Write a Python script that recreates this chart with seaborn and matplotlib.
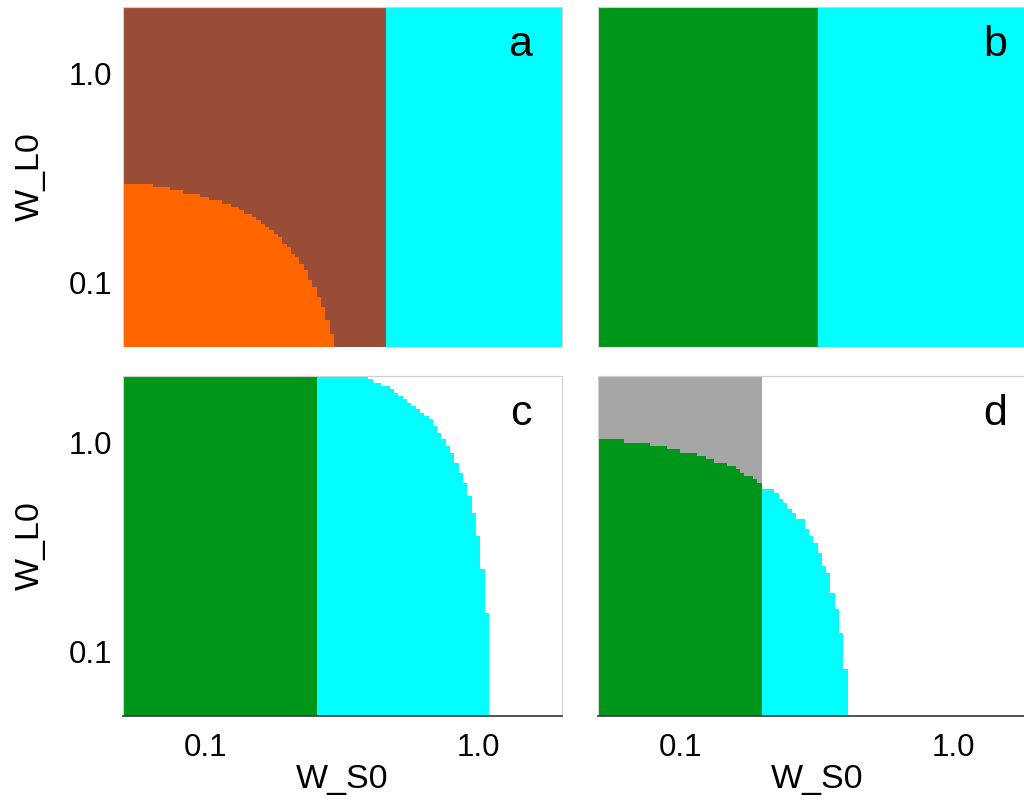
import numpy as np
import pandas as pd
import matplotlib
matplotlib.use("Agg")
import matplotlib.pyplot as plt
from matplotlib.colors import ListedColormap
import seaborn as sns

# ---------------------------------------------------------------------------
# Phase-diagram data: region boundaries in the (W_S0, W_L0) plane
# ---------------------------------------------------------------------------
REGION_NAMES = ["none", "orange", "brown", "cyan", "green", "gray"]
REGION_COLORS = ["#ffffff", "#ff6600", "#994c36", "#00ffff", "#00961a", "#a6a6a6"]
WHITE, ORANGE, BROWN, CYAN, GREEN, GRAY = range(len(REGION_NAMES))

WS0_RANGE = (0.0497, 2.03)
WL0_RANGE = (0.0492, 2.08)
N_CELLS = 102

TICK_VALUES = [0.1, 1.0]
TICK_LABELS = ["0.1", "1.0"]
PANEL_LETTERS = ["a", "b", "c", "d"]

# panel a: brown | cyan split, orange corner below the edge curve
A_SPLIT_WS0 = 0.465
A_EDGE_WS0 = [0.058, 0.078, 0.097, 0.125, 0.150, 0.168, 0.187, 0.209, 0.233, 0.260, 0.281, 0.301]
A_EDGE_WL0 = [0.300, 0.277, 0.260, 0.233, 0.208, 0.187, 0.165, 0.139, 0.115, 0.085, 0.066, 0.049]

# panel b: green | cyan split
B_SPLIT_WS0 = 0.323

# panel c: green | cyan split, cyan bounded by the edge curve
C_SPLIT_WS0 = 0.252
C_EDGE_WS0 = [0.387, 0.404, 0.432, 0.466, 0.503, 0.538, 0.580, 0.626, 0.670, 0.723,
              0.780, 0.835, 0.871, 0.901, 0.932, 0.972, 1.005, 1.040, 1.084]
C_EDGE_WL0 = [2.080, 1.995, 1.930, 1.846, 1.729, 1.600, 1.482, 1.372, 1.284, 1.100,
              0.953, 0.791, 0.708, 0.634, 0.543, 0.436, 0.339, 0.241, 0.134]

# panel d: gray above / green below the green edge (left of split), cyan right of split
D_SPLIT_WS0 = 0.201
D_GREEN_WS0 = [0.0603, 0.075, 0.0866, 0.100, 0.1116, 0.1204, 0.1344, 0.145, 0.155,
               0.1618, 0.173, 0.1805, 0.193, 0.201]
D_GREEN_WL0 = [1.018, 0.9855, 0.953, 0.912, 0.883, 0.854, 0.817, 0.791, 0.765,
               0.732, 0.708, 0.685, 0.655, 0.634]
D_CYAN_WS0 = [0.208, 0.217, 0.2244, 0.2326, 0.2406, 0.251, 0.2597, 0.2686, 0.280, 0.2897,
              0.2997, 0.3126, 0.3234, 0.3344, 0.349, 0.3607, 0.3733, 0.3895, 0.4027]
D_CYAN_WL0 = [0.607, 0.587, 0.568, 0.5435, 0.526, 0.487, 0.471, 0.436, 0.422, 0.391,
              0.361, 0.324, 0.300, 0.260, 0.233, 0.193, 0.160, 0.119, 0.0826]


# ---------------------------------------------------------------------------
# Log-spaced grid and classification helpers
# ---------------------------------------------------------------------------
def log_centers(lo, hi, n):
    edges = np.logspace(np.log10(lo), np.log10(hi), n + 1)
    return np.sqrt(edges[:-1] * edges[1:])


ws0 = log_centers(*WS0_RANGE, N_CELLS)
wl0 = log_centers(*WL0_RANGE, N_CELLS)
X, Y = np.meshgrid(ws0, wl0)


def below_edge(edge_ws0, edge_wl0):
    """True where W_L0 lies under the edge curve (log-log interpolation)."""
    lim = np.interp(np.log10(X), np.log10(edge_ws0), np.log10(edge_wl0), right=-np.inf)
    return np.log10(Y) < lim


def panel_a():
    m = np.where(X < A_SPLIT_WS0, BROWN, CYAN)
    m[below_edge(A_EDGE_WS0, A_EDGE_WL0) & (X < A_SPLIT_WS0)] = ORANGE
    return m


def panel_b():
    return np.where(X < B_SPLIT_WS0, GREEN, CYAN)


def panel_c():
    m = np.full(X.shape, WHITE)
    m[below_edge(C_EDGE_WS0, C_EDGE_WL0)] = CYAN
    m[X < C_SPLIT_WS0] = GREEN
    return m


def panel_d():
    m = np.full(X.shape, WHITE)
    m[below_edge(D_CYAN_WS0, D_CYAN_WL0)] = CYAN
    left = X < D_SPLIT_WS0
    m[left] = GRAY
    m[left & below_edge(D_GREEN_WS0, D_GREEN_WL0)] = GREEN
    return m


def to_frame(m):
    # rows run from high W_L0 (top) to low W_L0 (bottom)
    return pd.DataFrame(m[::-1], index=np.round(wl0[::-1], 4), columns=np.round(ws0, 4))


# ---------------------------------------------------------------------------
# Figure
# ---------------------------------------------------------------------------
sns.set_theme(style="white")
plt.rcParams["font.family"] = ["Liberation Sans", "DejaVu Sans"]
plt.rcParams.update({
    "text.color": "black",
    "axes.labelcolor": "black",
    "xtick.color": "black",
    "ytick.color": "black",
})

fig = plt.figure(figsize=(10.24, 8.01), dpi=100)
W, H = 1024.0, 801.0
panel_w, panel_h = 439.0, 340.0
positions = {
    "a": (123, 347), "b": (598, 347),
    "c": (123, 716), "d": (598, 716),
}
builders = {"a": panel_a, "b": panel_b, "c": panel_c, "d": panel_d}

cmap = ListedColormap(REGION_COLORS)
lx = np.log10(WS0_RANGE)
ly = np.log10(WL0_RANGE)
xtick_pos = [N_CELLS * (np.log10(v) - lx[0]) / (lx[1] - lx[0]) for v in TICK_VALUES]
ytick_pos = [N_CELLS * (ly[1] - np.log10(v)) / (ly[1] - ly[0]) for v in TICK_VALUES]

for letter in PANEL_LETTERS:
    px, py = positions[letter]
    ax = fig.add_axes([px / W, (H - py) / H, panel_w / W, panel_h / H])
    sns.heatmap(to_frame(builders[letter]()), ax=ax, cmap=cmap, vmin=-0.5,
                vmax=len(REGION_COLORS) - 0.5, cbar=False,
                xticklabels=False, yticklabels=False)

    for side in ["left", "right", "top", "bottom"]:
        ax.spines[side].set_visible(True)
        ax.spines[side].set_color("#d0d0d0")
        ax.spines[side].set_linewidth(0.8)
    if letter in ("c", "d"):
        ax.spines["bottom"].set_color("#444444")
        ax.spines["bottom"].set_linewidth(1.3)
    else:
        ax.spines["bottom"].set_visible(False)

    ax.tick_params(length=0, labelsize=22.5, labelcolor="black")
    ax.tick_params(axis="y", pad=8)
    ax.tick_params(axis="x", pad=12)

    if letter in ("a", "c"):
        ax.set_yticks(ytick_pos)
        ax.set_yticklabels(TICK_LABELS, rotation=0)
        ax.set_ylabel("W_L0", fontsize=24.5, labelpad=16, color="black")
    else:
        ax.set_yticks([])
        ax.set_ylabel("")
    if letter in ("c", "d"):
        ax.set_xticks(xtick_pos)
        ax.set_xticklabels(TICK_LABELS, rotation=0)
        ax.set_xlabel("W_S0", fontsize=24.5, labelpad=1, color="black")
    else:
        ax.set_xticks([])
        ax.set_xlabel("")

    ax.text(0.932, 0.855, letter, transform=ax.transAxes, ha="right",
            va="baseline", fontsize=31, color="black")

fig.savefig("out.png", dpi=100)
